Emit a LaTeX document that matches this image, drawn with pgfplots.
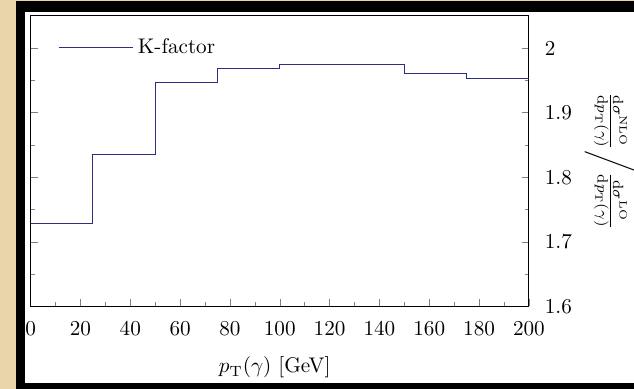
\documentclass[border=0pt]{standalone}
\usepackage{pgfplots}
\pgfplotsset{compat=1.18}
\definecolor{kline}{RGB}{45,45,130}
\definecolor{parch}{RGB}{232,214,170}
\begin{document}
\begin{tikzpicture}
\path[use as bounding box, fill=parch] (0,0) rectangle (299.3pt,-183.5pt);
\fill[black] (7.55pt,-0.6pt) rectangle (320pt,-190pt);
\fill[white] (11.8pt,-5.6pt) rectangle (320pt,-180.7pt);
\begin{axis}[
  at={(14.48pt,-144.67pt)}, anchor=south west,
  scale only axis, width=235.2pt, height=137.26pt,
  xmin=0, xmax=200, ymin=1.6, ymax=2.05,
  xtick={0,20,...,200}, minor x tick num=1,
  ytick={1.6,1.7,1.8,1.9,2.0}, yticklabels={1.6,1.7,1.8,1.9,2},
  minor y tick num=1,
  xtick pos=left, ytick pos=both, yticklabel pos=right,
  major tick length=3.3pt, minor tick length=1.9pt,
  xticklabel style={yshift=-3.6pt},
  yticklabel style={xshift=4pt},
  xlabel={$p_{\mathrm{T}}(\gamma)$ [GeV]},
  xlabel style={yshift=-3.4pt, xshift=-2.4pt},
  ylabel={$\frac{\mathrm{d}\sigma^{\mathrm{NLO}}}{\mathrm{d}p_{\mathrm{T}}(\gamma)}\bigg/\frac{\mathrm{d}\sigma^{\mathrm{LO}}}{\mathrm{d}p_{\mathrm{T}}(\gamma)}$},
  ylabel style={at={(axis description cs:1.097,0.5)}, anchor=south, rotate=180},
  legend style={draw=none, fill=none, at={(axis description cs:0.0548,0.891)}, anchor=west, inner sep=0pt},
  legend cell align=left,
  legend image code/.code={\draw[#1] (0cm,0cm) -- (1.05cm,0cm); \path (1.05cm,0cm) -- (1.05cm+5.2pt,0cm);},
]
\addplot[const plot, kline, line width=0.5pt] coordinates {
  (0,1.729) (25,1.835) (50,1.947) (75,1.968) (100,1.9745) (125,1.974) (150,1.960) (175,1.9534) (200,1.9534)
};
\addlegendentry{K-factor}
\end{axis}
\end{tikzpicture}
\end{document}
